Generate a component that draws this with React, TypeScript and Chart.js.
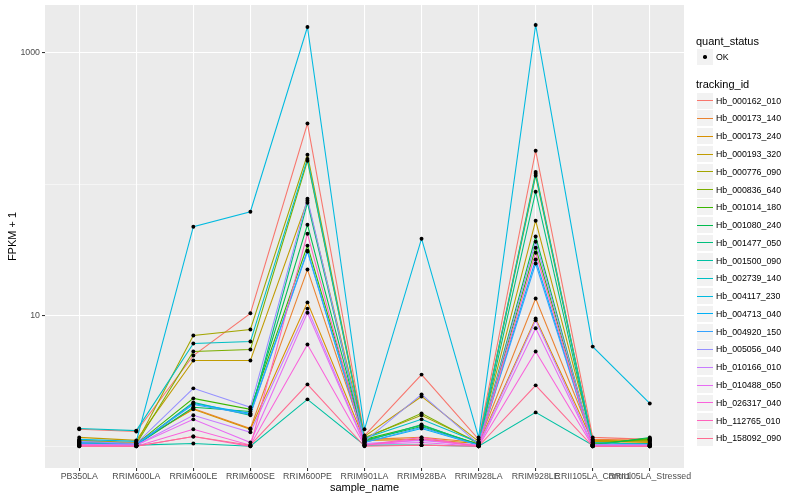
import React, { useEffect, useRef } from "react";
import { Chart, registerables } from "chart.js";

Chart.register(...registerables);

const FONT = "'Liberation Sans', Arial, Helvetica, sans-serif";

const sampleNames = [
  "PB350LA",
  "RRIM600LA",
  "RRIM600LE",
  "RRIM600SE",
  "RRIM600PE",
  "RRIM901LA",
  "RRIM928BA",
  "RRIM928LA",
  "RRIM928LE",
  "RRII105LA_Control",
  "RRII105LA_Stressed",
];

const trackingIds = [
  "Hb_000162_010",
  "Hb_000173_140",
  "Hb_000173_240",
  "Hb_000193_320",
  "Hb_000776_090",
  "Hb_000836_640",
  "Hb_001014_180",
  "Hb_001080_240",
  "Hb_001477_050",
  "Hb_001500_090",
  "Hb_002739_140",
  "Hb_004117_230",
  "Hb_004713_040",
  "Hb_004920_150",
  "Hb_005056_040",
  "Hb_010166_010",
  "Hb_010488_050",
  "Hb_026317_040",
  "Hb_112765_010",
  "Hb_158092_090",
];

const trackingColors = [
  "#F8766D", "#EA8331", "#D89000", "#C09B00", "#A3A500",
  "#7CAE00", "#39B600", "#00BB4E", "#00BF7D", "#00C1A3",
  "#00BFC4", "#00BAE0", "#00B0F6", "#35A2FF", "#9590FF",
  "#C77CFF", "#E76BF3", "#FA62DB", "#FF62BC", "#FF6C91",
];

const quantStatus = ["OK"];

const yTickValues = [1, 10, 100, 1000];
const yTickLabels = ["", "10", "", "1000"];

// FPKM + 1 per sample (order of sampleNames)
const hb000162_010 = [1.36, 1.31, 4.96, 10.4, 290, 1.22, 3.55, 1.14, 180, 1.18, 1.14];
const hb000173_140 = [1.1, 1.05, 1.96, 1.38, 22.4, 1.14, 1.18, 1.08, 13.5, 1.14, 1.12];
const hb000173_240 = [1.12, 1.08, 1.93, 1.36, 12.6, 1.12, 1.14, 1.06, 9.5, 1.1, 1.08];
const hb000193_320 = [1.18, 1.12, 4.55, 4.55, 75, 1.2, 2.42, 1.1, 52.8, 1.12, 1.1];
const hb000776_090 = [1.12, 1.06, 7.05, 7.83, 168, 1.18, 1.74, 1.08, 124, 1.08, 1.12];
const hb000836_640 = [1.1, 1.05, 5.32, 5.51, 151, 1.16, 1.8, 1.06, 116, 1.06, 1.14];
const hb001014_180 = [1.08, 1.05, 2.34, 1.93, 34.1, 1.14, 1.46, 1.045, 32.9, 1.045, 1.16];
const hb001080_240 = [1.08, 1.03, 2.0, 1.86, 49.2, 1.12, 1.43, 1.045, 40, 1.03, 1.18];
const hb001477_050 = [1.06, 1.03, 2.18, 1.74, 72.3, 1.1, 1.48, 1.03, 87.7, 1.045, 1.06];
const hb001500_090 = [1.045, 1.03, 1.06, 1.01, 2.3, 1.03, 1.03, 1.01, 1.83, 1.03, 1.03];
const hb002739_140 = [1.38, 1.33, 6.12, 6.34, 156, 1.16, 1.62, 1.08, 120, 1.08, 1.045];
const hb004117_230 = [1.14, 1.1, 47.5, 61.8, 1577, 1.36, 38.5, 1.18, 1633, 5.8, 2.14];
const hb004713_040 = [1.06, 1.03, 2.14, 1.8, 31.2, 1.08, 1.38, 1.03, 26.7, 1.03, 1.045];
const hb004920_150 = [1.08, 1.05, 2.1, 1.77, 30.7, 1.08, 1.41, 1.03, 24.9, 1.03, 1.03];
const hb005056_040 = [1.1, 1.06, 2.79, 2.0, 77.6, 1.1, 2.51, 1.045, 36.5, 1.045, 1.03];
const hb010166_010 = [1.045, 1.03, 1.74, 1.29, 11.3, 1.06, 1.12, 1.03, 9.2, 1.03, 1.03];
const hb010488_050 = [1.03, 1.03, 1.62, 1.08, 10.5, 1.045, 1.08, 1.01, 8.0, 1.01, 1.01];
const hb026317_040 = [1.03, 1.01, 1.36, 1.03, 6.02, 1.03, 1.14, 1.01, 5.32, 1.01, 1.01];
const hb112765_010 = [1.01, 1.01, 1.2, 1.01, 42, 1.03, 1.18, 1.01, 30.1, 1.01, 1.01];
const hb158092_090 = [1.01, 1.01, 1.2, 1.03, 2.99, 1.01, 1.03, 1.01, 2.94, 1.01, 1.01];

const seriesValues = [
  hb000162_010, hb000173_140, hb000173_240, hb000193_320, hb000776_090,
  hb000836_640, hb001014_180, hb001080_240, hb001477_050, hb001500_090,
  hb002739_140, hb004117_230, hb004713_040, hb004920_150, hb005056_040,
  hb010166_010, hb010488_050, hb026317_040, hb112765_010, hb158092_090,
];

const panelBackground = {
  id: "panelBackground",
  beforeDraw(chart: any) {
    const { ctx, chartArea } = chart;
    if (!chartArea) return;
    ctx.save();
    ctx.fillStyle = "#EBEBEB";
    ctx.fillRect(chartArea.left, chartArea.top, chartArea.right - chartArea.left, chartArea.bottom - chartArea.top);
    ctx.restore();
  },
};

export default function App() {
  const canvasRef = useRef<HTMLCanvasElement>(null);

  useEffect(() => {
    if (!canvasRef.current) return;
    const toPoints = (vals: number[]) => vals.map((y, x) => ({ x, y }));
    const lineSets = seriesValues.map((vals, i) => ({
      label: trackingIds[i],
      data: toPoints(vals),
      borderColor: trackingColors[i],
      backgroundColor: trackingColors[i],
      borderWidth: 1.07,
      pointRadius: 0,
      pointHoverRadius: 0,
      tension: 0,
      fill: false,
      order: 21 - i,
    }));
    const pointSets = seriesValues.map((vals, i) => ({
      label: trackingIds[i] + " " + quantStatus[0],
      data: toPoints(vals),
      showLine: false,
      pointRadius: 1.95,
      pointHoverRadius: 1.95,
      pointBackgroundColor: "#000000",
      pointBorderWidth: 0,
      borderColor: "#000000",
      order: 0,
    }));

    const chart = new Chart(canvasRef.current, {
      type: "line",
      data: { datasets: [...pointSets, ...lineSets] as any },
      options: {
        animation: false,
        responsive: false,
        events: [],
        layout: { padding: { left: 0, top: 5, right: 116, bottom: 0 } },
        plugins: {
          legend: { display: false },
          tooltip: { enabled: false },
        },
        scales: {
          x: {
            type: "linear",
            min: -0.6,
            max: 10.6,
            afterBuildTicks: (s: any) => {
              s.ticks = sampleNames.map((_, i) => ({ value: i }));
            },
            afterFit: (s: any) => {
              s.height = 32;
              s.paddingLeft = 0;
              s.paddingRight = 0;
            },
            ticks: {
              autoSkip: false,
              maxRotation: 0,
              minRotation: 0,
              padding: 0,
              color: "#4D4D4D",
              font: { family: FONT, size: 8.8 },
              callback: (v: any) => sampleNames[Number(v)] ?? "",
            },
            grid: {
              color: "#FFFFFF",
              lineWidth: 1.07,
              drawTicks: true,
              tickLength: 3,
              tickColor: "#333333",
              tickWidth: 1.07,
            },
            border: { display: false },
            title: {
              display: true,
              text: "sample_name",
              color: "#000000",
              font: { family: FONT, size: 11 },
              padding: { top: 0, bottom: 5 },
            },
          },
          y: {
            type: "logarithmic",
            min: 0.69,
            max: 2320,
            afterBuildTicks: (s: any) => {
              s.ticks = yTickValues.map((v) => ({ value: v }));
            },
            afterFit: (s: any) => {
              s.width = 45;
              s.paddingTop = 0;
              s.paddingBottom = 0;
            },
            ticks: {
              autoSkip: false,
              padding: 2,
              color: "#4D4D4D",
              font: { family: FONT, size: 8.8 },
              callback: (v: any) => {
                const idx = yTickValues.indexOf(Number(v));
                return idx >= 0 ? yTickLabels[idx] : "";
              },
            },
            grid: {
              color: "#FFFFFF",
              lineWidth: (ctx: any) => (yTickLabels[yTickValues.indexOf(ctx.tick?.value)] ? 1.07 : 0.53),
              drawTicks: true,
              tickLength: 3,
              tickWidth: 1.07,
              tickColor: (ctx: any) =>
                yTickLabels[yTickValues.indexOf(ctx.tick?.value)] ? "#333333" : "rgba(0,0,0,0)",
            },
            border: { display: false },
            title: {
              display: true,
              text: "FPKM + 1",
              color: "#000000",
              font: { family: FONT, size: 11 },
              padding: { top: 6, bottom: 0 },
            },
          },
        },
      } as any,
      plugins: [panelBackground],
    });
    return () => chart.destroy();
  }, []);

  const keyTop0 = 92.7;
  const keyStep = 17.77;

  return (
    <div
      style={{
        position: "fixed",
        left: 0,
        top: 0,
        width: 800,
        height: 500,
        background: "#FFFFFF",
        fontFamily: FONT,
        overflow: "hidden",
      }}
    >
      <canvas ref={canvasRef} width={800} height={500} style={{ position: "absolute", left: 0, top: 0, width: 800, height: 500 }} />
      <div style={{ position: "absolute", left: 696, top: 33.7, fontSize: 11, lineHeight: "14px", color: "#000" }}>quant_status</div>
      {quantStatus.map((q, i) => (
        <React.Fragment key={q}>
          <div style={{ position: "absolute", left: 697, top: 49 + i * keyStep, width: 16, height: 16, background: "#F2F2F2" }}>
            <div style={{ position: "absolute", left: 6.3, top: 6.3, width: 3.4, height: 3.4, borderRadius: "50%", background: "#000" }} />
          </div>
          <div style={{ position: "absolute", left: 716, top: 49 + i * keyStep, height: 16, display: "flex", alignItems: "center", fontSize: 8.8, color: "#000" }}>{q}</div>
        </React.Fragment>
      ))}
      <div style={{ position: "absolute", left: 696, top: 77, fontSize: 11, lineHeight: "14px", color: "#000" }}>tracking_id</div>
      {trackingIds.map((id, i) => {
        const top = keyTop0 + i * keyStep;
        return (
          <React.Fragment key={id}>
            <div style={{ position: "absolute", left: 697, top, width: 16, height: 16, background: "#F2F2F2" }}>
              <div style={{ position: "absolute", left: 0, top: 7.5, width: 16, height: 1, background: trackingColors[i] }} />
            </div>
            <div style={{ position: "absolute", left: 716, top, height: 16, display: "flex", alignItems: "center", fontSize: 8.8, color: "#000", whiteSpace: "nowrap" }}>{id}</div>
          </React.Fragment>
        );
      })}
    </div>
  );
}
